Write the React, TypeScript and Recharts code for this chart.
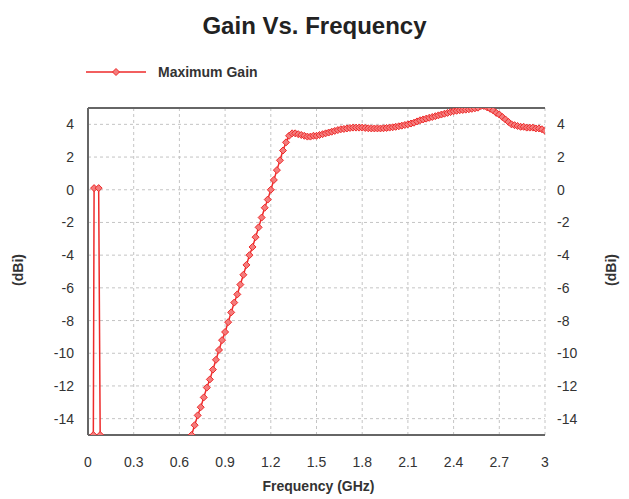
import { CartesianGrid, Line, LineChart, ReferenceLine, XAxis, YAxis } from "recharts"

const XTICKS = [0, 0.3, 0.6, 0.9, 1.2, 1.5, 1.8, 2.1, 2.4, 2.7, 3]
const YTICKS = [-14, -12, -10, -8, -6, -4, -2, 0, 2, 4]

// frequency in GHz, gain in dBi (null = gap in the trace)
const FREQ = [
  0.035, 0.04, 0.07, 0.08, 0.3,
  0.68, 0.7, 0.72, 0.74, 0.76, 0.78, 0.8, 0.82, 0.84, 0.86, 0.88, 0.9, 0.92, 0.94, 0.96, 0.98,
  1.0, 1.02, 1.04, 1.06, 1.08, 1.1, 1.12, 1.14, 1.16, 1.18, 1.2, 1.22, 1.24, 1.26, 1.28, 1.3,
  1.32, 1.34, 1.36, 1.38, 1.4, 1.42, 1.44, 1.46, 1.48, 1.5, 1.52, 1.54, 1.56, 1.58, 1.6,
  1.62, 1.64, 1.66, 1.68, 1.7, 1.72, 1.74, 1.76, 1.78, 1.8, 1.82, 1.84, 1.86, 1.88, 1.9,
  1.92, 1.94, 1.96, 1.98, 2.0, 2.02, 2.04, 2.06, 2.08, 2.1, 2.12, 2.14, 2.16, 2.18, 2.2,
  2.22, 2.24, 2.26, 2.28, 2.3, 2.32, 2.34, 2.36, 2.38, 2.4, 2.42, 2.44, 2.46, 2.48, 2.5,
  2.52, 2.54, 2.56, 2.58, 2.6, 2.62, 2.64, 2.66, 2.68, 2.7, 2.72, 2.74, 2.76, 2.78, 2.8,
  2.82, 2.84, 2.86, 2.88, 2.9, 2.92, 2.94, 2.96, 2.98, 3.0,
]
const GAIN = [
  -15, 0.1, 0.1, -15, null,
  -15, -14.4, -13.8, -13.3, -12.7, -12.1, -11.6, -11.0, -10.4, -9.8, -9.2, -8.7, -8.1, -7.5, -6.9, -6.4,
  -5.8, -5.2, -4.6, -4.0, -3.5, -2.9, -2.3, -1.7, -1.1, -0.6, 0.0, 0.6, 1.2, 1.8, 2.4, 2.9,
  3.3, 3.45, 3.45, 3.4, 3.35, 3.3, 3.25, 3.25, 3.3, 3.3, 3.35, 3.4, 3.45, 3.5, 3.55,
  3.6, 3.65, 3.7, 3.72, 3.75, 3.78, 3.8, 3.8, 3.8, 3.8, 3.78, 3.76, 3.75, 3.75, 3.75,
  3.75, 3.76, 3.78, 3.8, 3.82, 3.85, 3.88, 3.92, 3.96, 4.0, 4.05, 4.1, 4.18, 4.25, 4.3,
  4.35, 4.4, 4.45, 4.5, 4.55, 4.6, 4.65, 4.7, 4.75, 4.8, 4.83, 4.86, 4.88, 4.9, 4.92,
  4.95, 4.98, 5.02, 5.12, 5.12, 5.04, 4.95, 4.85, 4.7, 4.6, 4.45, 4.3, 4.15, 4.0, 3.95,
  3.9, 3.85, 3.85, 3.8, 3.8, 3.8, 3.75, 3.75, 3.7, 3.6,
]

const RED = "#ee2a2a"
const FONT = "'Liberation Sans', Arial, sans-serif"

const data = FREQ.map((f, i) => ({ f, g: GAIN[i] }))

function Diamond(props: any) {
  const { cx, cy, index } = props
  if (typeof cx !== "number" || typeof cy !== "number" || GAIN[index] == null) return <g key={index} />
  const s = 3.5
  return (
    <polygon
      key={index}
      points={`${cx},${cy - s} ${cx + s},${cy} ${cx},${cy + s} ${cx - s},${cy}`}
      fill="#f47c7c"
      stroke={RED}
      strokeWidth={1}
    />
  )
}

export default function App() {
  return (
    <div style={{ position: "relative", width: 629, height: 499, fontFamily: FONT, background: "#fff" }}>
      <style>{"body{margin:0}"}</style>
      <div style={{ position: "absolute", top: 12, left: 0, width: 629, textAlign: "center", fontSize: 24, fontWeight: "bold", color: "#222" }}>
        Gain Vs. Frequency
      </div>
      <div style={{ position: "absolute", top: 62, left: 86, display: "flex", alignItems: "center", fontSize: 14, fontWeight: "bold", color: "#333" }}>
        <svg width={62} height={20}>
          <line x1={0} y1={10} x2={60} y2={10} stroke={RED} strokeWidth={1.5} />
          <polygon points="30,6.5 33.5,10 30,13.5 26.5,10" fill="#f47c7c" stroke={RED} />
        </svg>
        <span style={{ marginLeft: 10 }}>Maximum Gain</span>
      </div>
      <div style={{ position: "absolute", top: 478, left: 0, width: 629, textAlign: "center", fontSize: 14, fontWeight: "bold", color: "#333", paddingLeft: 4 }}>
        Frequency (GHz)
      </div>
      <div style={{ position: "absolute", left: 18, top: 270, transform: "translate(-50%, -50%) rotate(-90deg)", fontSize: 14, fontWeight: "bold", color: "#333" }}>
        (dBi)
      </div>
      <div style={{ position: "absolute", left: 611, top: 270, transform: "translate(-50%, -50%) rotate(-90deg)", fontSize: 14, fontWeight: "bold", color: "#333" }}>
        (dBi)
      </div>
      <div style={{ position: "absolute", top: 0, left: 0 }}>
        <LineChart width={629} height={499} data={data} margin={{ top: 108, right: 44, bottom: 34, left: 48 }}>
          <CartesianGrid stroke="#c4c4c4" strokeDasharray="3 3" />
          <XAxis
            type="number"
            dataKey="f"
            domain={[0, 3]}
            ticks={XTICKS}
            allowDataOverflow
            height={30}
            axisLine={{ stroke: "#666", strokeWidth: 2 }}
            tickLine={false}
            tickMargin={16}
            tick={{ fill: "#333", fontSize: 14 }}
          />
          <YAxis
            domain={[-15, 5]}
            ticks={YTICKS}
            allowDataOverflow
            width={40}
            axisLine={{ stroke: "#666", strokeWidth: 2 }}
            tickLine={false}
            tickMargin={8}
            tick={{ fill: "#333", fontSize: 14 }}
          />
          <YAxis
            yAxisId="r"
            orientation="right"
            domain={[-15, 5]}
            ticks={YTICKS}
            allowDataOverflow
            width={40}
            axisLine={false}
            tickLine={false}
            tickMargin={6}
            tick={{ fill: "#333", fontSize: 14 }}
          />
          <ReferenceLine y={5} stroke="#666" strokeWidth={2} />
          <Line
            dataKey="g"
            stroke={RED}
            strokeWidth={1.5}
            dot={Diamond}
            connectNulls={false}
            isAnimationActive={false}
          />
        </LineChart>
      </div>
    </div>
  )
}
